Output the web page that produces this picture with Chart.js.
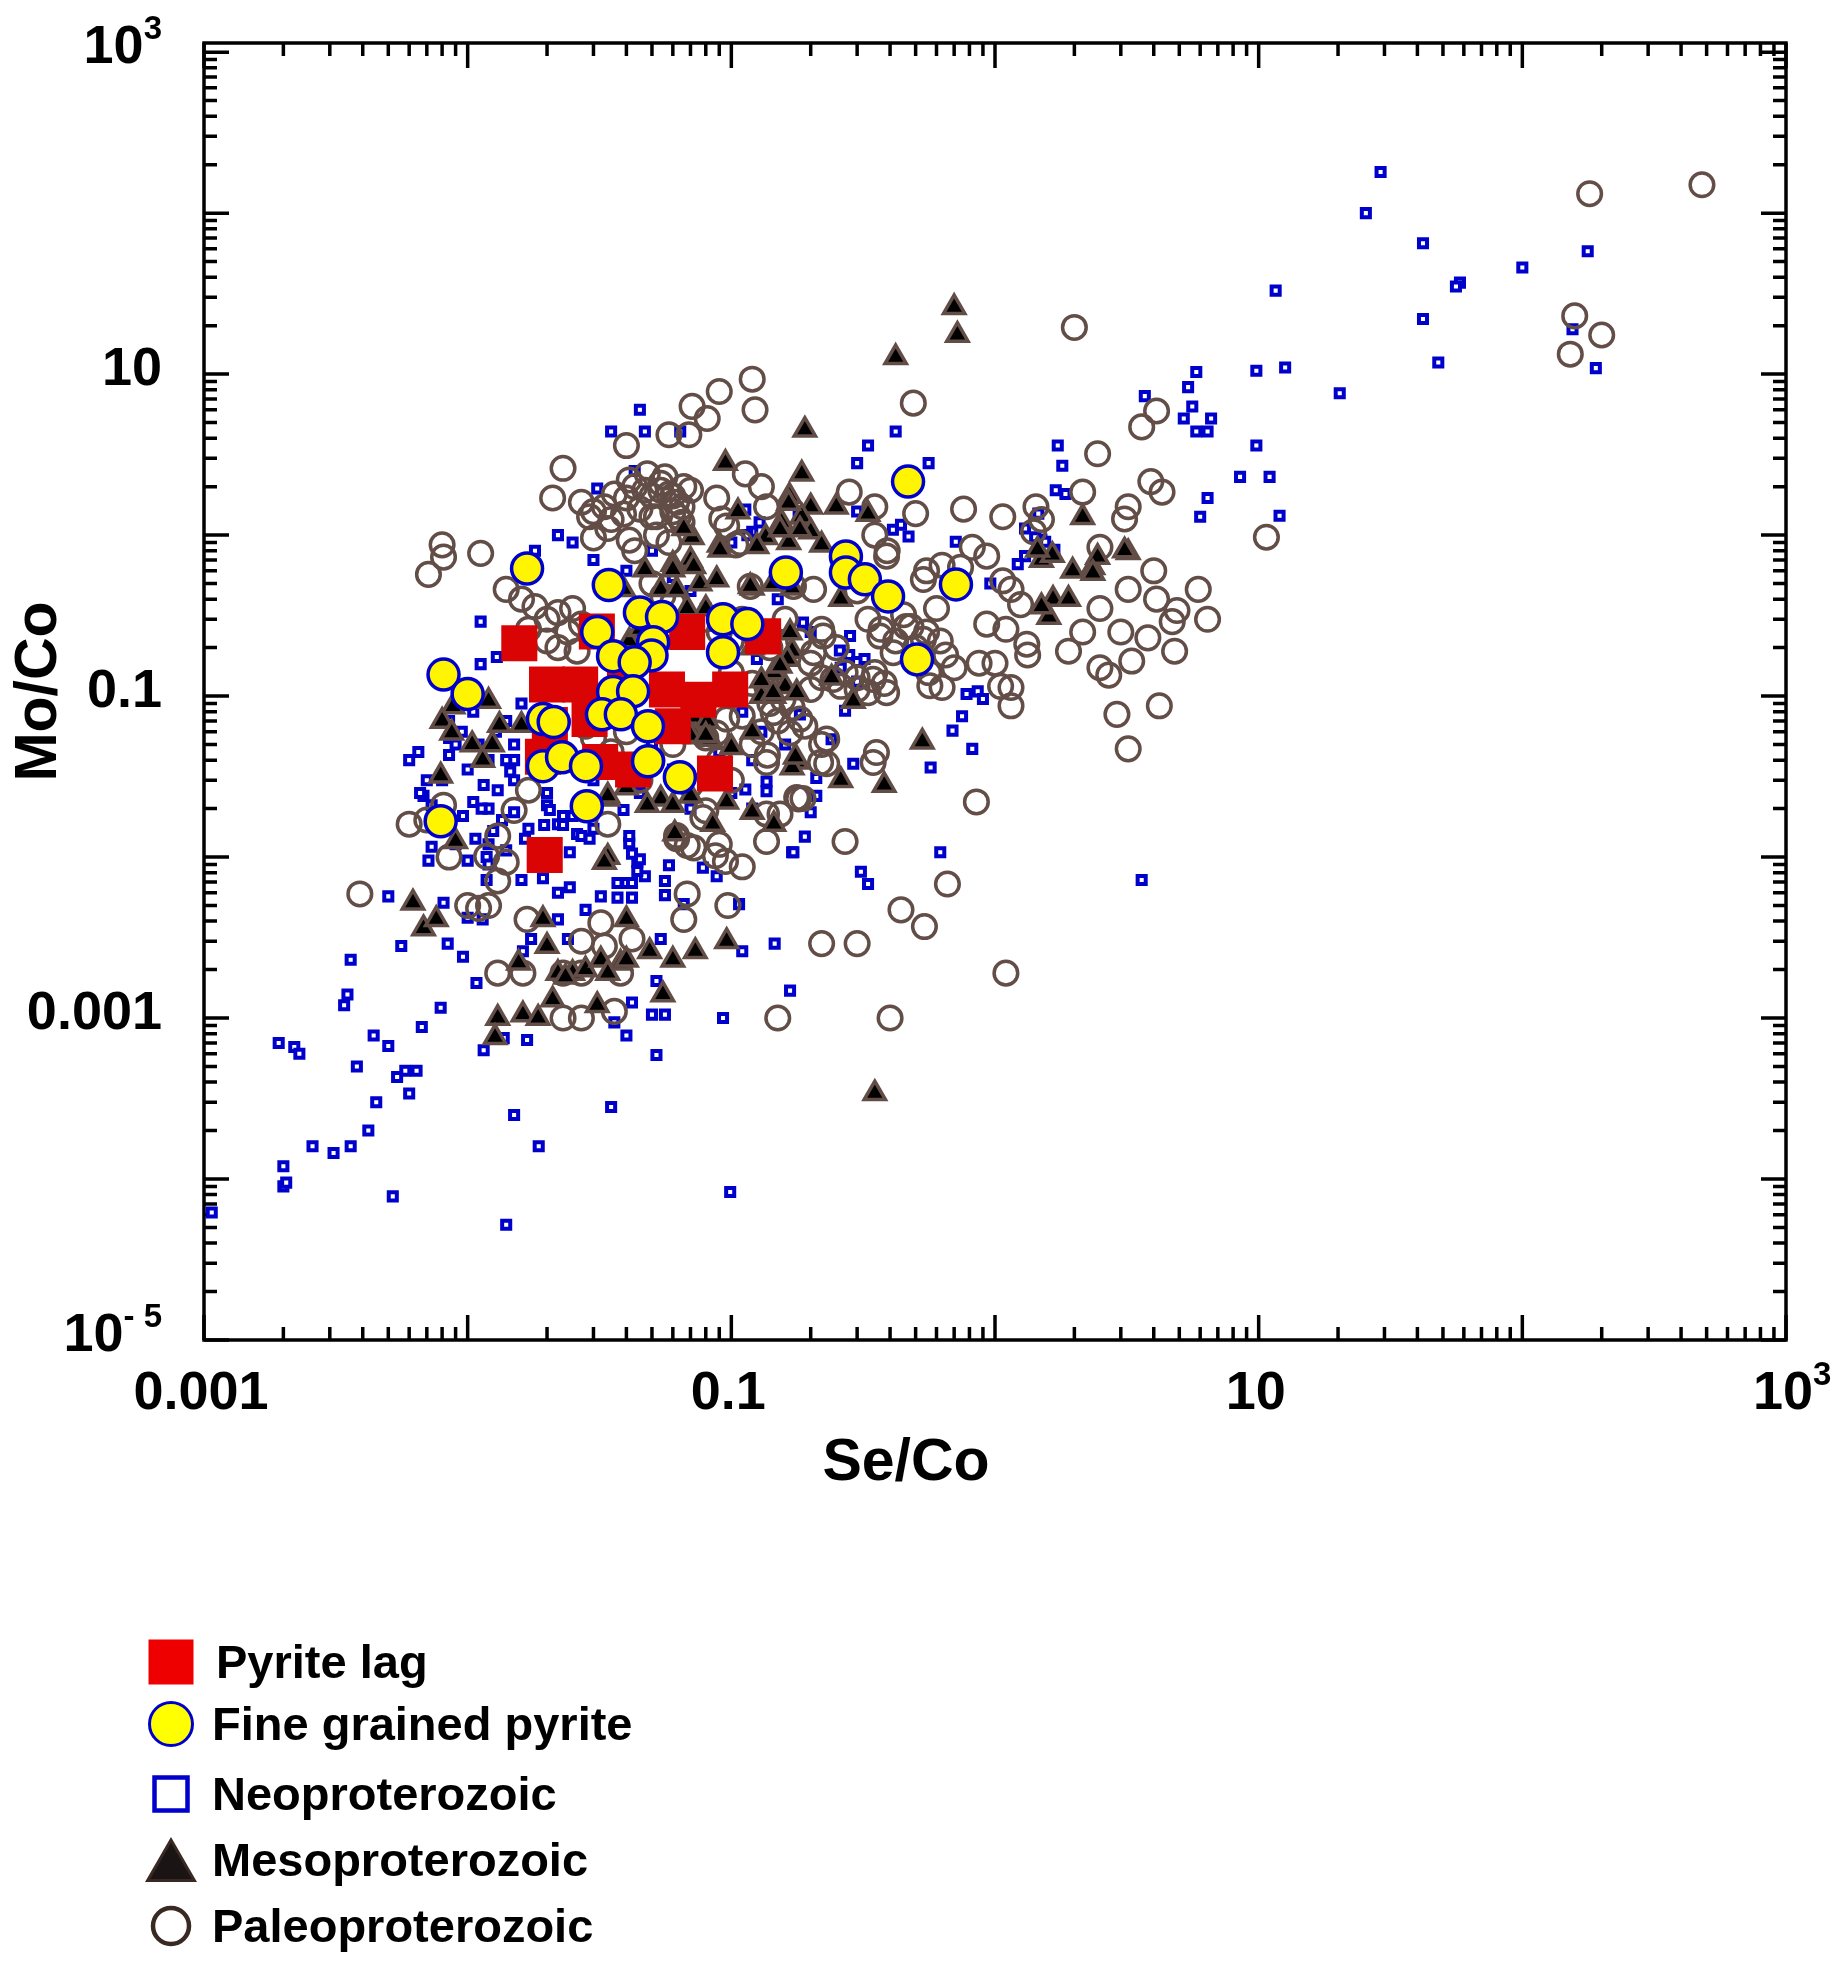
<!DOCTYPE html>
<html>
<head>
<meta charset="utf-8">
<title>Mo/Co vs Se/Co</title>
<script src="https://cdn.jsdelivr.net/npm/chart.js@4.4.1/dist/chart.umd.min.js"></script>
<style>
  html, body { margin: 0; padding: 0; background: #fff; }
  canvas { display: block; }
</style>
</head>
<body>
<canvas id="seCoChart" width="1834" height="1963"></canvas>
<script>
// [Se/Co, Mo/Co] pairs
const pyriteLag = [
  [0.0157, 0.213], [0.0309, 0.252], [0.068, 0.25], [0.132, 0.235], [0.020, 0.118], [0.0267, 0.118],
  [0.0395, 0.127], [0.057, 0.110], [0.099, 0.110], [0.0193, 0.042], [0.0318, 0.039], [0.0424, 0.035],
  [0.0867, 0.033], [0.060, 0.065], [0.0196, 0.0103], [0.029, 0.072], [0.075, 0.095], [0.0205, 0.066]
];

const fineGrained = [
  [0.0168, 0.62], [0.0343, 0.49], [0.045, 0.33], [0.0546, 0.31], [0.093, 0.30], [0.115, 0.28],
  [0.031, 0.25], [0.0505, 0.216], [0.0498, 0.179], [0.0356, 0.177], [0.043, 0.162], [0.093, 0.187],
  [0.0081, 0.136], [0.010, 0.103], [0.0356, 0.106], [0.0424, 0.107], [0.0193, 0.072], [0.0212, 0.069],
  [0.0323, 0.077], [0.0381, 0.077], [0.0483, 0.065], [0.0193, 0.0367], [0.0228, 0.0417], [0.0281, 0.0367],
  [0.0483, 0.0394], [0.0638, 0.0313], [0.161, 0.586], [0.272, 0.736], [0.272, 0.586], [0.321, 0.531],
  [0.393, 0.416], [0.468, 2.15], [0.506, 0.169], [0.711, 0.494], [0.0283, 0.0207], [0.0079, 0.0167]
];

const neoproterozoic = [
  [29, 180], [25.5, 100], [42, 65], [58, 37], [56, 35], [100, 46], [177, 58], [42, 22], [48, 11.8],
  [155, 19], [190, 10.9], [11.6, 33], [12.6, 11], [9.8, 10.5], [20.3, 7.6],
  [5.8, 10.3], [5.4, 8.3], [3.7, 7.3], [5.6, 6.3], [5.2, 5.3], [6.6, 5.3], [5.8, 4.4], [6.4, 4.4],
  [9.8, 3.6], [11, 2.3], [8.5, 2.3], [6.4, 1.7], [6.0, 1.3], [12, 1.32],
  [1.73, 3.6], [1.8, 2.7], [1.7, 1.9], [1.85, 1.8], [1.46, 1.36], [1.5, 0.94], [1.68, 0.81], [1.3, 0.74],
  [1.22, 0.66], [1.42, 0.97], [1.55, 0.91], [1.3, 1.1], [0.96, 0.5], [3.6, 0.0072],
  [0.42, 4.4], [0.33, 3.6], [0.30, 2.8], [0.56, 2.8], [0.41, 1.08], [0.44, 1.16], [0.47, 0.98], [0.71, 0.91],
  [0.28, 0.18], [0.26, 0.15], [0.30, 0.163], [0.32, 0.17], [0.30, 0.123], [0.78, 0.103], [0.86, 0.107],
  [0.9, 0.096], [0.69, 0.061], [0.82, 0.047], [0.57, 0.036], [0.29, 0.038], [0.21, 0.031], [0.24, 0.054],
  [0.27, 0.081], [0.75, 0.075], [0.19, 0.0134], [0.17, 0.0107], [0.62, 0.0107], [0.31, 0.0081],
  [0.33, 0.0068], [0.167, 0.00148], [0.2, 0.019], [0.21, 0.024],
  [0.0068, 0.024], [0.005, 0.0057], [0.0071, 0.0095], [0.0073, 0.0116], [0.01, 0.0095], [0.0081, 0.0052],
  [0.01, 0.0042], [0.0114, 0.0041], [0.0056, 0.0028], [0.0084, 0.0029], [0.0096, 0.0024], [0.0036, 0.0023],
  [0.0035, 0.0014], [0.0034, 0.0012], [0.0108, 0.00165], [0.0079, 0.00116], [0.0067, 0.00088],
  [0.0044, 0.00078], [0.005, 0.00067], [0.0038, 0.0005], [0.0058, 0.00047], [0.0064, 0.00047],
  [0.0054, 0.00043], [0.006, 0.00034], [0.0045, 0.0003], [0.0042, 0.0002], [0.0036, 0.00016],
  [0.0052, 0.000078], [0.014, 0.000052], [0.015, 0.00025], [0.0186, 0.00016], [0.035, 0.00028],
  [0.099, 0.000083], [0.052, 0.00059], [0.04, 0.00078], [0.036, 0.00094], [0.0168, 0.00073],
  [0.0137, 0.00075], [0.0115, 0.00063], [0.042, 0.00125], [0.05, 0.00105], [0.056, 0.00105], [0.093, 0.001],
  [0.052, 0.0017], [0.146, 0.0029], [0.11, 0.0026], [0.054, 0.0031], [0.024, 0.0031], [0.0174, 0.0031],
  [0.0162, 0.0026], [0.022, 0.0041], [0.028, 0.0047], [0.032, 0.0057], [0.0244, 0.0065], [0.022, 0.006],
  [0.0193, 0.0074], [0.016, 0.0072], [0.0244, 0.0107], [0.026, 0.0139], [0.037, 0.0069], [0.04, 0.0069],
  [0.042, 0.0069], [0.037, 0.0056], [0.042, 0.0056], [0.056, 0.0071], [0.056, 0.0058], [0.058, 0.0089],
  [0.044, 0.0093], [0.045, 0.0097], [0.047, 0.0076], [0.044, 0.0082], [0.041, 0.0122], [0.042, 0.0105],
  [0.078, 0.0086], [0.088, 0.0076], [0.066, 0.0051], [0.107, 0.0051], [0.172, 0.0107], [0.0118, 0.01],
  [0.0118, 0.0072], [0.0105, 0.022], [0.012, 0.02], [0.0135, 0.017], [0.015, 0.019], [0.017, 0.015],
  [0.02, 0.021], [0.022, 0.016], [0.025, 0.018], [0.0165, 0.013], [0.0125, 0.0145], [0.0205, 0.0196],
  [0.023, 0.018], [0.0195, 0.0158], [0.023, 0.0158], [0.027, 0.0135], [0.029, 0.013], [0.039, 0.0196],
  [0.041, 0.0135],
  [0.00107, 0.000062], [0.00192, 0.0007], [0.0022, 0.00066], [0.0023, 0.0006], [0.002, 0.00012],
  [0.002, 0.00009], [0.00205, 0.000095], [0.00258, 0.00016], [0.0031, 0.000145],
  [0.0066, 0.025], [0.0073, 0.021], [0.0081, 0.017], [0.0096, 0.018], [0.0113, 0.02], [0.013, 0.026],
  [0.0145, 0.034], [0.015, 0.04], [0.009, 0.012], [0.0107, 0.013], [0.012, 0.009], [0.014, 0.011],
  [0.008, 0.03], [0.01, 0.035], [0.0115, 0.028], [0.006, 0.04], [0.0065, 0.045], [0.0085, 0.055],
  [0.0095, 0.06], [0.011, 0.05], [0.0128, 0.06], [0.014, 0.07], [0.016, 0.09], [0.0105, 0.08],
  [0.0112, 0.29], [0.0112, 0.158], [0.0129, 0.175], [0.045, 6.0], [0.035, 4.4], [0.047, 4.4], [0.064, 4.4],
  [0.031, 1.95], [0.043, 2.5], [0.076, 0.076], [0.12, 0.02], [0.015, 0.05], [0.014, 0.04], [0.0085, 0.043],
  [0.128, 1.2], [0.12, 1.05], [0.115, 1.0], [0.125, 0.17],
  [0.018, 0.8], [0.022, 1.0], [0.025, 0.9], [0.03, 0.7], [0.035, 0.5], [0.04, 0.6], [0.05, 0.8], [0.06, 0.55],
  [0.07, 0.45], [0.08, 0.35], [0.1, 0.9], [0.15, 0.4], [0.18, 1.3], [0.2, 0.25], [0.25, 0.6], [0.3, 1.4],
  [0.11, 0.08], [0.13, 0.06], [0.16, 0.05], [0.09, 0.045], [0.06, 0.035], [0.05, 0.05], [0.03, 0.03],
  [0.02, 0.025], [0.015, 0.03], [0.012, 0.04], [0.009, 0.05], [0.007, 0.03], [0.0085, 0.07], [0.012, 0.012],
  [0.03, 0.015], [0.045, 0.025], [0.07, 0.02], [0.1, 0.025], [0.12, 0.04],
  [0.113, 1.44], [0.282, 0.236], [0.258, 0.192], [0.187, 0.286], [0.182, 0.077], [0.136, 0.0295],
  [0.136, 0.0256], [0.113, 0.0263]
];

const mesoproterozoic = [
  [0.70, 26], [0.72, 17.5], [0.42, 12.7], [0.19, 4.5], [0.095, 2.8], [0.185, 2.4],
  [0.166, 1.75], [0.2, 1.5], [0.185, 1.3], [0.25, 1.5], [0.33, 1.35], [0.2, 1.05], [0.22, 0.87], [0.26, 0.4],
  [0.17, 0.19], [0.24, 0.13], [2.15, 1.29], [1.5, 0.7], [1.65, 0.75], [1.97, 0.6], [2.35, 0.63], [2.45, 0.73],
  [3.2, 0.78], [1.66, 0.4], [1.9, 0.4], [1.6, 0.31], [0.29, 0.093], [0.53, 0.052], [0.177, 0.039],
  [0.26, 0.03], [0.38, 0.028], [0.35, 0.00034],
  [0.106, 1.4], [0.071, 0.97], [0.09, 0.87], [0.07, 0.7], [0.06, 0.66], [0.047, 0.61], [0.039, 0.46],
  [0.054, 0.46], [0.076, 0.5], [0.165, 1.58], [0.155, 1.2], [0.165, 0.9], [0.135, 0.97], [0.08, 0.35],
  [0.068, 0.35], [0.163, 0.17], [0.145, 0.14], [0.16, 0.115], [0.13, 0.1], [0.145, 0.1], [0.072, 0.074],
  [0.081, 0.07], [0.12, 0.47], [0.145, 0.5], [0.17, 0.47], [0.125, 0.85], [0.12, 0.2], [0.13, 0.125],
  [0.12, 0.06], [0.17, 0.036], [0.066, 1.1], [0.041, 0.22], [0.045, 0.26], [0.038, 0.076], [0.057, 0.066],
  [0.065, 0.059], [0.073, 0.056], [0.083, 0.054], [0.07, 0.024], [0.04, 0.027], [0.034, 0.01],
  [0.012, 0.093], [0.0088, 0.086], [0.008, 0.07], [0.0087, 0.059], [0.0104, 0.05], [0.0124, 0.05],
  [0.0114, 0.04], [0.0079, 0.032], [0.0132, 0.066], [0.034, 0.023], [0.054, 0.023], [0.1, 0.048],
  [0.016, 0.066], [0.009, 0.0125], [0.0062, 0.0052], [0.0068, 0.0036], [0.0076, 0.0041], [0.033, 0.0093],
  [0.0193, 0.0041], [0.04, 0.0041], [0.02, 0.0028], [0.0156, 0.0022],
  [0.022, 0.0019], [0.025, 0.0019], [0.028, 0.002], [0.032, 0.0023], [0.038, 0.0022], [0.04, 0.0023],
  [0.049, 0.0026], [0.06, 0.0023], [0.073, 0.0026], [0.096, 0.003], [0.0235, 0.0018], [0.034, 0.0019],
  [0.021, 0.0013], [0.031, 0.0012], [0.055, 0.0014], [0.013, 0.001], [0.0162, 0.00105], [0.0185, 0.001],
  [0.0127, 0.00076], [0.034, 0.024], [0.048, 0.021], [0.06, 0.021], [0.096, 0.022], [0.12, 0.019],
  [0.145, 0.016], [0.061, 0.014], [0.085, 0.016], [0.175, 0.042], [1.45, 0.81], [3.1, 0.8], [2.35, 0.58],
  [1.5, 0.36],
  [0.0906, 0.81], [0.153, 1.08], [0.182, 1.08], [0.06, 0.61], [0.072, 0.64], [0.088, 0.53], [0.062, 0.46],
  [0.118, 0.48], [0.144, 0.5], [0.167, 0.248], [0.153, 0.154], [0.177, 0.105], [0.144, 0.105],
  [0.07, 0.057], [0.08, 0.057]
];

const paleoproterozoic = [
  [480, 150], [180, 132], [2.0, 19.5], [158, 23], [200, 17.5], [152, 13.3], [10.7, 0.97],
  [2.45, 3.2], [4.1, 5.9], [3.6, 4.7], [3.9, 2.15], [4.3, 1.85], [3.2, 1.5], [3.1, 1.26], [2.15, 1.85],
  [1.43, 1.5], [1.5, 1.25], [1.4, 1.05], [1.07, 1.3], [0.76, 1.45], [0.5, 1.36], [0.49, 6.6], [0.28, 1.85],
  [0.35, 1.5], [0.35, 1.0], [0.39, 0.8], [0.82, 0.84], [0.93, 0.74], [0.55, 0.6], [0.63, 0.65], [0.74, 0.63],
  [1.07, 0.52], [1.15, 0.46], [1.25, 0.37], [0.93, 0.28], [1.1, 0.26], [1.32, 0.21], [1.33, 0.18],
  [1.9, 0.19], [2.15, 0.25], [2.5, 0.84], [2.5, 0.35], [3.2, 0.46], [3.0, 0.25], [4.0, 0.6], [4.1, 0.4],
  [3.8, 0.23], [4.9, 0.34], [4.7, 0.29], [5.9, 0.46], [6.4, 0.3], [4.8, 0.19], [2.5, 0.15], [2.7, 0.135],
  [3.3, 0.165], [2.9, 0.077], [4.2, 0.087], [3.2, 0.047], [0.87, 0.16], [1.0, 0.16], [1.05, 0.115],
  [1.15, 0.113], [1.15, 0.087], [0.63, 0.113], [0.56, 0.14],
  [0.85, 0.022], [0.27, 0.0125], [0.66, 0.0068], [0.44, 0.0047], [0.54, 0.0037], [0.22, 0.0029],
  [0.3, 0.0029], [1.1, 0.0019], [0.15, 0.001], [0.4, 0.001], [0.18, 0.023],
  [0.0039, 0.0059], [0.006, 0.016], [0.007, 0.017], [0.0081, 0.021], [0.0118, 0.0101], [0.014, 0.0093],
  [0.013, 0.0071], [0.013, 0.0135], [0.015, 0.0195], [0.01, 0.005], [0.011, 0.0048], [0.012, 0.005],
  [0.0168, 0.0041], [0.013, 0.0019], [0.0162, 0.0019], [0.023, 0.0019], [0.027, 0.0019], [0.033, 0.0028],
  [0.027, 0.003], [0.038, 0.0019], [0.023, 0.001], [0.027, 0.001], [0.032, 0.0039], [0.042, 0.0031],
  [0.068, 0.0059], [0.097, 0.005], [0.066, 0.0041], [0.11, 0.0087], [0.136, 0.0125], [0.095, 0.0094],
  [0.072, 0.0114], [0.062, 0.013], [0.034, 0.016], [0.036, 0.0011], [0.0085, 0.01],
  [0.12, 9.3], [0.123, 6.0], [0.09, 7.8], [0.071, 6.3], [0.081, 5.3], [0.069, 4.2], [0.058, 4.2],
  [0.04, 3.6], [0.023, 2.6], [0.021, 1.7],
  [0.027, 1.6], [0.03, 1.4], [0.033, 1.5], [0.036, 1.8], [0.04, 1.7], [0.043, 2.0], [0.047, 1.9],
  [0.05, 1.75], [0.054, 2.1], [0.058, 1.8], [0.062, 1.6], [0.066, 2.0], [0.07, 1.9], [0.045, 1.45],
  [0.035, 1.25], [0.029, 1.3], [0.039, 1.35], [0.052, 1.3], [0.06, 1.4], [0.034, 1.1], [0.065, 1.2],
  [0.048, 2.4], [0.041, 2.2], [0.056, 2.3],
  [0.03, 0.96], [0.041, 0.93], [0.043, 0.8], [0.088, 1.7], [0.092, 1.26], [0.104, 0.87], [0.113, 2.4],
  [0.13, 2.0], [0.136, 1.5], [0.008, 0.87], [0.0081, 0.73], [0.0071, 0.57], [0.0112, 0.77], [0.014, 0.46],
  [0.016, 0.4], [0.018, 0.36], [0.02, 0.3], [0.022, 0.33], [0.025, 0.35], [0.027, 0.28], [0.024, 0.25],
  [0.02, 0.22], [0.017, 0.26], [0.022, 0.2], [0.026, 0.19],
  [0.1, 0.14], [0.12, 0.12], [0.14, 0.09], [0.11, 0.075], [0.13, 0.06], [0.15, 0.07], [0.12, 0.05],
  [0.137, 0.043], [0.017, 0.026],
  [0.05, 0.5], [0.055, 0.42], [0.06, 0.38], [0.08, 0.3], [0.09, 0.25], [0.1, 0.22], [0.11, 0.3],
  [0.12, 0.25], [0.14, 0.2], [0.16, 0.3], [0.18, 0.22], [0.2, 0.16], [0.22, 0.26], [0.25, 0.2],
  [0.27, 0.14], [0.3, 0.11], [0.2, 0.11], [0.17, 0.085], [0.19, 0.065], [0.22, 0.05], [0.23, 0.038],
  [0.08, 0.055], [0.09, 0.04], [0.1, 0.03], [0.07, 0.028], [0.06, 0.05], [0.05, 0.04], [0.045, 0.03],
  [0.04, 0.06], [0.035, 0.045], [0.03, 0.055], [0.028, 0.065], [0.3, 0.45], [0.33, 0.3], [0.37, 0.26],
  [0.42, 0.22], [0.45, 0.32], [0.48, 0.27], [0.5, 0.2], [0.55, 0.25], [0.6, 0.35], [0.62, 0.22],
  [0.65, 0.18], [0.7, 0.15], [0.22, 0.13], [0.26, 0.115], [0.3, 0.13], [0.33, 0.105], [0.35, 0.14],
  [0.38, 0.12],
  [0.096, 1.14], [0.108, 0.9], [0.118, 0.48], [0.172, 0.48], [0.205, 0.46], [0.223, 0.236], [0.205, 0.186],
  [0.243, 0.127], [0.366, 0.236], [0.411, 0.186], [0.345, 0.127], [0.388, 0.105], [0.388, 0.74],
  [0.535, 0.53], [0.46, 0.27], [0.535, 0.225], [0.566, 0.116], [0.23, 0.054], [0.355, 0.0446],
  [0.167, 0.059], [0.144, 0.079], [0.136, 0.116], [0.157, 0.0955], [0.182, 0.072], [0.096, 0.072],
  [0.088, 0.059], [0.054, 1.9], [0.06, 1.75], [0.065, 1.5], [0.052, 1.0], [0.058, 0.9], [0.063, 1.3],
  [0.05, 1.3],
  [0.087, 0.0102], [0.09, 0.012], [0.068, 0.0118], [0.062, 0.0136], [0.078, 0.0176], [0.08, 0.0194],
  [0.136, 0.0185], [0.153, 0.0185], [0.177, 0.0234], [0.187, 0.0231], [0.218, 0.0387], [0.345, 0.0387],
  [0.136, 0.0387]
];

const seriesNames = ['Pyrite lag', 'Fine grained pyrite', 'Neoproterozoic', 'Mesoproterozoic', 'Paleoproterozoic'];

// axes
const xRange = [0.001, 1000];
const yRange = [1e-5, 1140];
const xTickValues = [0.001, 0.1, 10, 1000];
const xTickLabels = ['0.001', '0.1', '10', '10^3'];
const yTickValues = [1000, 10, 0.1, 0.001, 1e-5];
const yTickLabels = ['10^3', '10', '0.1', '0.001', '10^-5'];
const xTitle = 'Se/Co';
const yTitle = 'Mo/Co';

const FONT_FAMILY = '"Liberation Sans", Arial, Helvetica, sans-serif';
const TICK_FONT = 'bold 54px ' + FONT_FAMILY;
const SUP_FONT = 'bold 33px ' + FONT_FAMILY;
const TITLE_FONT = 'bold 59px ' + FONT_FAMILY;
const LEGEND_FONT = 'bold 47px ' + FONT_FAMILY;

const PALEO_BROWN = '#634d47';
const NEO_BLUE = '#0000cc';

// legend marker look (bigger than the plot marks)
const legendMarkers = [
  { shape: 'rect', size: 45, fill: '#ee0000', stroke: null, lw: 0 },
  { shape: 'circle', size: 21.5, fill: '#ffff00', stroke: NEO_BLUE, lw: 3 },
  { shape: 'rect', size: 33, fill: '#ffffff', stroke: NEO_BLUE, lw: 4.5 },
  { shape: 'triangle', size: 27, fill: '#1a1414', stroke: '#3a2823', lw: 3 },
  { shape: 'circle', size: 18, fill: '#ffffff', stroke: '#3a2823', lw: 4.5 }
];
const legendRowsY = [1662, 1724, 1794, 1860, 1926];

function drawMarker(ctx, m, cx, cy) {
  ctx.save();
  ctx.fillStyle = m.fill;
  ctx.strokeStyle = m.stroke || m.fill;
  ctx.lineWidth = m.lw;
  ctx.beginPath();
  if (m.shape === 'rect') {
    ctx.rect(cx - m.size / 2, cy - m.size / 2, m.size, m.size);
  } else if (m.shape === 'circle') {
    ctx.arc(cx, cy, m.size, 0, Math.PI * 2);
  } else {
    // equilateral triangle around its centroid, like Chart.js does it
    const r = m.size;
    for (let i = 0; i < 3; i++) {
      const a = i * 2 * Math.PI / 3;
      const px = cx + Math.sin(a) * r, py = cy - Math.cos(a) * r;
      if (i === 0) ctx.moveTo(px, py); else ctx.lineTo(px, py);
    }
    ctx.closePath();
  }
  ctx.fill();
  if (m.stroke && m.lw > 0) ctx.stroke();
  ctx.restore();
}

// "10^3" -> 10 with a raised 3
function drawTickLabel(ctx, text, x, baseline, align) {
  const parts = text.split('^');
  const base = parts[0];
  const sup = parts[1] ? parts[1].replace('-', '- ') : '';
  ctx.font = TICK_FONT;
  const wb = ctx.measureText(base).width;
  ctx.font = SUP_FONT;
  const ws = sup ? ctx.measureText(sup).width : 0;
  let start;
  if (align === 'right') start = x - wb - ws;
  else start = x - wb / 2;
  ctx.textAlign = 'left';
  ctx.textBaseline = 'alphabetic';
  ctx.font = TICK_FONT;
  ctx.fillText(base, start, baseline);
  if (sup) {
    ctx.font = SUP_FONT;
    ctx.fillText(sup, start + wb, baseline - 24);
  }
}

function logTicks(min, max) {
  const out = [];
  const lo = Math.floor(Math.log10(min) + 1e-9);
  const hi = Math.floor(Math.log10(max) + 1e-9);
  for (let e = lo; e <= hi; e++) {
    for (let k = 1; k <= 9; k++) {
      const v = k * Math.pow(10, e);
      if (v < min * 0.9999 || v > max * 1.0001) continue;
      out.push({ value: v, major: k === 1 });
    }
  }
  return out;
}

// frame with inward ticks on all four sides, labels, titles and legend
const framePlugin = {
  id: 'frameAndLabels',
  beforeDatasetsDraw(chart) {
    const { ctx, chartArea: a, scales } = chart;
    const xs = scales.x, ys = scales.y;
    ctx.save();
    ctx.strokeStyle = '#000';
    ctx.lineWidth = 3.5;
    ctx.lineCap = 'butt';
    ctx.beginPath();
    logTicks(xs.min, xs.max).forEach(t => {
      const px = xs.getPixelForValue(t.value);
      const len = t.major ? 25 : 13;
      ctx.moveTo(px, a.bottom); ctx.lineTo(px, a.bottom - len);
      ctx.moveTo(px, a.top); ctx.lineTo(px, a.top + len);
    });
    logTicks(ys.min, ys.max).forEach(t => {
      const py = ys.getPixelForValue(t.value);
      const len = t.major ? 25 : 13;
      ctx.moveTo(a.left, py); ctx.lineTo(a.left + len, py);
      ctx.moveTo(a.right, py); ctx.lineTo(a.right - len, py);
    });
    ctx.stroke();
    ctx.lineJoin = 'miter';
    ctx.strokeRect(a.left, a.top, a.right - a.left, a.bottom - a.top);
    ctx.restore();
  },
  afterDraw(chart) {
    const { ctx, chartArea: a, scales } = chart;
    const xs = scales.x, ys = scales.y;
    ctx.save();
    ctx.fillStyle = '#000';

    xTickValues.forEach((v, i) => {
      drawTickLabel(ctx, xTickLabels[i], xs.getPixelForValue(v) - 3, a.bottom + 69, 'center');
    });
    yTickValues.forEach((v, i) => {
      drawTickLabel(ctx, yTickLabels[i], a.left - 42, ys.getPixelForValue(v) + 11, 'right');
    });

    ctx.font = TITLE_FONT;
    ctx.textAlign = 'center';
    ctx.textBaseline = 'alphabetic';
    ctx.fillText(xTitle, 906, 1480);
    ctx.save();
    ctx.translate(56, (a.top + a.bottom) / 2);
    ctx.rotate(-Math.PI / 2);
    ctx.fillText(yTitle, 0, 0);
    ctx.restore();

    // legend, in the order the series were defined
    chart.data.datasets.forEach((ds, i) => {
      const m = legendMarkers[i];
      const y = legendRowsY[i];
      drawMarker(ctx, m, 171, m.shape === 'triangle' ? y + 7 : y);
      ctx.fillStyle = '#000';
      ctx.font = LEGEND_FONT;
      ctx.textAlign = 'left';
      ctx.textBaseline = 'alphabetic';
      ctx.fillText(ds.label, i === 0 ? 216 : 212, y + 16);
    });
    ctx.restore();
  }
};

const ctx = document.getElementById('seCoChart').getContext('2d');
const seCoChart = new Chart(ctx, {
  type: 'scatter',
  data: {
    datasets: [
      {
        label: seriesNames[0],
        data: pyriteLag,
        pointStyle: 'rect',
        pointRadius: 25.5,
        backgroundColor: '#da0404',
        borderColor: '#da0404',
        borderWidth: 0,
        order: 1
      },
      {
        label: seriesNames[1],
        data: fineGrained,
        pointStyle: 'circle',
        pointRadius: 15.5,
        backgroundColor: '#fff500',
        borderColor: NEO_BLUE,
        borderWidth: 3.5,
        order: 0
      },
      {
        label: seriesNames[2],
        data: neoproterozoic,
        pointStyle: 'rect',
        pointRadius: 5.7,
        backgroundColor: '#ffffff',
        borderColor: NEO_BLUE,
        borderWidth: 4,
        order: 4
      },
      {
        label: seriesNames[3],
        data: mesoproterozoic,
        pointStyle: 'triangle',
        pointRadius: 12.3,
        backgroundColor: '#000000',
        borderColor: PALEO_BROWN,
        borderWidth: 3.5,
        order: 2
      },
      {
        label: seriesNames[4],
        data: paleoproterozoic,
        pointStyle: 'circle',
        pointRadius: 11.8,
        backgroundColor: 'rgba(255,255,255,0)',
        borderColor: PALEO_BROWN,
        borderWidth: 3.5,
        order: 3
      }
    ]
  },
  options: {
    responsive: false,
    animation: false,
    devicePixelRatio: 1,
    events: [],
    clip: false,
    layout: {
      padding: { left: 204, top: 43, right: 48, bottom: 623 }
    },
    scales: {
      x: { type: 'logarithmic', min: xRange[0], max: xRange[1], display: false },
      y: { type: 'logarithmic', min: yRange[0], max: yRange[1], display: false }
    },
    plugins: {
      legend: { display: false },
      tooltip: { enabled: false }
    }
  },
  plugins: [framePlugin]
});
</script>
</body>
</html>
